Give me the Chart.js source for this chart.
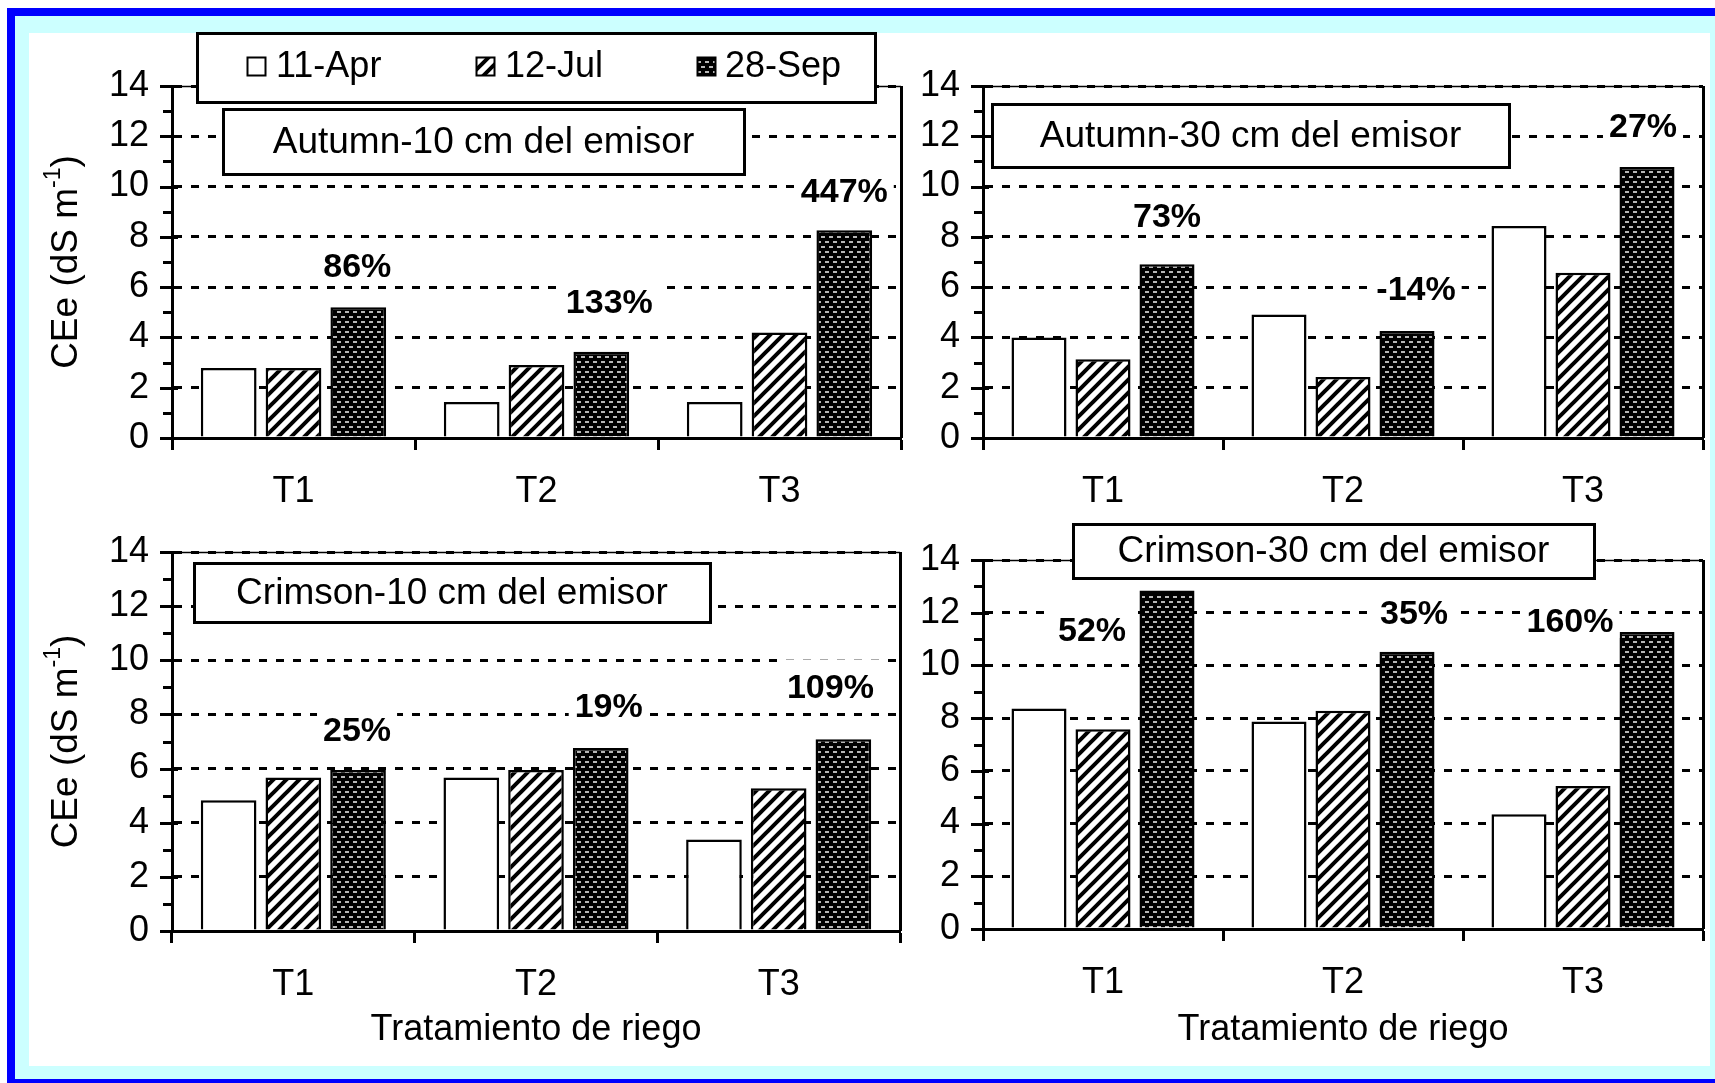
<!DOCTYPE html>
<html>
<head>
<meta charset="utf-8">
<script src="https://cdn.jsdelivr.net/npm/chart.js@4.4.0/dist/chart.umd.min.js"></script>
<style>
  html, body { margin: 0; padding: 0; width: 1715px; height: 1083px; overflow: hidden; background: #fff; }
  #frame { position: absolute; left: 7px; top: 8px; width: 1740px; height: 1100px; background: #0000ff; }
  #cyan { position: absolute; left: 15px; top: 16px; width: 1720px; height: 1063px; background: #ccffff; }
  #paper { position: absolute; left: 29px; top: 33px; width: 1681px; height: 1033px; background: #fff; }
  canvas { position: absolute; left: 0; top: 0; }
</style>
</head>
<body>
<div id="frame"></div>
<div id="cyan"></div>
<div id="paper"></div>
<canvas id="c1" width="1715" height="1083"></canvas>
<canvas id="c2" width="1715" height="1083"></canvas>
<canvas id="c3" width="1715" height="1083"></canvas>
<canvas id="c4" width="1715" height="1083"></canvas>
<script>
const categories = ['T1', 'T2', 'T3'];
const seriesNames = ['11-Apr', '12-Jul', '28-Sep'];
const yMin = 0, yMax = 14, yStep = 2;

const autumn10Apr = [2.78, 1.43, 1.43];
const autumn10Jul = [2.78, 2.90, 4.20];
const autumn10Sep = [5.20, 3.43, 8.26];
const autumn10Pct = ['86%', '133%', '447%'];

const autumn30Apr = [4.00, 4.91, 8.43];
const autumn30Jul = [3.13, 2.43, 6.57];
const autumn30Sep = [6.91, 4.26, 10.78];
const autumn30Pct = ['73%', '-14%', '27%'];

const crimson10Apr = [4.83, 5.67, 3.38];
const crimson10Jul = [5.67, 5.95, 5.27];
const crimson10Sep = [5.95, 6.76, 7.08];
const crimson10Pct = ['25%', '19%', '109%'];

const crimson30Apr = [8.37, 7.87, 4.35];
const crimson30Jul = [7.58, 8.28, 5.43];
const crimson30Sep = [12.84, 10.52, 11.27];
const crimson30Pct = ['52%', '35%', '160%'];

const W = 1715, H = 1083;
const FONT = '"Liberation Sans", Arial, sans-serif';

// panel placement on the page (pixels)
const panels = [
  { id: 'c1', title: 'Autumn-10 cm del emisor', data: [autumn10Apr, autumn10Jul, autumn10Sep], pct: autumn10Pct,
    area: { left: 172, top: 86, right: 901, bottom: 438 }, box: [223, 109, 744, 174],
    nudge: [[-1, -41], [8, -49], [0, -39]], yTitle: true, xTitle: false, legend: true },
  { id: 'c2', title: 'Autumn-30 cm del emisor', data: [autumn30Apr, autumn30Jul, autumn30Sep], pct: autumn30Pct,
    area: { left: 983, top: 86, right: 1703, bottom: 438 }, box: [992, 104, 1509, 167],
    nudge: [[0, -48], [9, -41], [-4, -40]], yTitle: false, xTitle: false, legend: false },
  { id: 'c3', title: 'Crimson-10 cm del emisor', data: [crimson10Apr, crimson10Jul, crimson10Sep], pct: crimson10Pct,
    area: { left: 172, top: 552, right: 900, bottom: 931 }, box: [194, 563, 710, 622],
    nudge: [[-1, -39], [8, -41], [-13, -52]], yTitle: true, xTitle: true, legend: false },
  { id: 'c4', title: 'Crimson-30 cm del emisor', data: [crimson30Apr, crimson30Jul, crimson30Sep], pct: crimson30Pct,
    area: { left: 983, top: 560, right: 1703, bottom: 929 }, box: [1073, 524, 1594, 578],
    nudge: [[-75, 40], [7, -38], [-77, -10]], yTitle: false, xTitle: true, legend: false }
];

function hatchPattern() {
  const s = 13;
  const c = document.createElement('canvas');
  c.width = s; c.height = s;
  const g = c.getContext('2d');
  g.fillStyle = '#fff';
  g.fillRect(0, 0, s, s);
  g.strokeStyle = '#000';
  g.lineWidth = 4;
  g.beginPath();
  g.moveTo(-2, s + 2); g.lineTo(s + 2, -2);
  g.moveTo(-2, 2); g.lineTo(2, -2);
  g.moveTo(s - 2, s + 2); g.lineTo(s + 2, s - 2);
  g.stroke();
  return g.createPattern(c, 'repeat');
}

function dotPattern() {
  const c = document.createElement('canvas');
  c.width = 8; c.height = 10;
  const g = c.getContext('2d');
  g.fillStyle = '#000';
  g.fillRect(0, 0, 8, 10);
  g.fillStyle = '#b8b8b8';
  g.fillRect(1, 1, 4, 2);
  g.fillRect(5, 6, 3, 2);
  g.fillRect(0, 6, 1, 2);
  return g.createPattern(c, 'repeat');
}

const fills = ['#ffffff', hatchPattern(), dotPattern()];

function line(ctx, x1, y1, x2, y2) {
  ctx.beginPath();
  ctx.moveTo(x1, y1);
  ctx.lineTo(x2, y2);
  ctx.stroke();
}

function drawYTitle(ctx, cx, cy) {
  const main = 'CEe (dS m', sup = '-1', close = ')';
  ctx.save();
  ctx.translate(cx, cy);
  ctx.rotate(-Math.PI / 2);
  ctx.fillStyle = '#000';
  ctx.textBaseline = 'middle';
  ctx.textAlign = 'left';
  ctx.font = '37px ' + FONT;
  const w1 = ctx.measureText(main).width;
  const w3 = ctx.measureText(close).width;
  ctx.font = '23px ' + FONT;
  const w2 = ctx.measureText(sup).width;
  let x = -(w1 + w2 + w3) / 2;
  ctx.font = '37px ' + FONT;
  ctx.fillText(main, x, 0);
  x += w1;
  ctx.font = '23px ' + FONT;
  ctx.fillText(sup, x, -13);
  x += w2;
  ctx.font = '37px ' + FONT;
  ctx.fillText(close, x, 0);
  ctx.restore();
}

function drawLegend(ctx, chart) {
  ctx.save();
  ctx.fillStyle = '#fff';
  ctx.fillRect(197, 33, 678, 69);
  ctx.lineWidth = 3;
  ctx.strokeStyle = '#000';
  ctx.strokeRect(197.5, 33.5, 678, 69);
  const swatchX = [247, 476, 697];
  const textX = [276, 505, 725];
  ctx.font = '36px ' + FONT;
  ctx.textBaseline = 'middle';
  ctx.textAlign = 'left';
  chart.data.datasets.forEach((ds, i) => {
    ctx.fillStyle = ds.backgroundColor;
    ctx.fillRect(swatchX[i], 57, 19, 19);
    ctx.lineWidth = 2;
    ctx.strokeRect(swatchX[i] + 0.5, 57.5, 18, 18);
    ctx.fillStyle = '#000';
    ctx.fillText(ds.label, textX[i], 67);
  });
  ctx.restore();
}

function decorPlugin(p) {
  return {
    id: 'decor',
    afterDraw(chart) {
      const ctx = chart.ctx;
      const a = chart.chartArea;
      const ys = chart.scales.y;
      ctx.save();
      ctx.strokeStyle = '#000';
      ctx.lineWidth = 1.5;
      line(ctx, a.left, a.top + 0.5, a.right, a.top + 0.5);
      ctx.lineWidth = 3;
      line(ctx, a.right + 0.5, a.top, a.right + 0.5, a.bottom);
      for (let v = yMin; v <= yMax; v += 1) {
        const py = Math.round(ys.getPixelForValue(v)) + 0.5;
        const major = v % yStep === 0;
        line(ctx, a.left - (major ? 12 : 9), py, a.left + (major ? 6 : 0), py);
      }

      // panel title box
      const [bx1, by1, bx2, by2] = p.box;
      ctx.fillStyle = '#fff';
      ctx.fillRect(bx1, by1, bx2 - bx1, by2 - by1);
      ctx.lineWidth = 3;
      ctx.strokeRect(bx1 + 0.5, by1 + 0.5, bx2 - bx1, by2 - by1);
      ctx.fillStyle = '#000';
      ctx.font = '37px ' + FONT;
      ctx.textAlign = 'center';
      ctx.textBaseline = 'middle';
      ctx.fillText(p.title, (bx1 + bx2) / 2, (by1 + by2) / 2 + 1);

      // percent change labels above the 28-Sep bars
      const meta = chart.getDatasetMeta(2);
      ctx.font = 'bold 34px ' + FONT;
      p.pct.forEach((txt, i) => {
        const bar = meta.data[i];
        const cx = bar.x + p.nudge[i][0];
        const cy = bar.y + p.nudge[i][1];
        const w = ctx.measureText(txt).width;
        ctx.fillStyle = '#fff';
        ctx.fillRect(cx - w / 2 - 6, cy - 28, w + 12, 44);
        ctx.fillStyle = '#000';
        ctx.fillText(txt, cx, cy + 1);
      });

      if (p.yTitle) drawYTitle(ctx, 67, (a.top + a.bottom) / 2);
      if (p.legend) drawLegend(ctx, chart);
      ctx.restore();
    }
  };
}

function makeChart(p) {
  const yW = 100;
  const xH = p.xTitle ? 1052 - p.area.bottom : 80;
  const tickFont = { family: FONT, size: 36 };
  return new Chart(document.getElementById(p.id), {
    type: 'bar',
    data: {
      labels: categories,
      datasets: p.data.map((vals, i) => ({
        label: seriesNames[i],
        data: vals,
        backgroundColor: fills[i],
        borderColor: '#000',
        borderWidth: 2.5,
        categoryPercentage: 0.8,
        barPercentage: 0.86
      }))
    },
    options: {
      responsive: false,
      animation: false,
      events: [],
      layout: {
        padding: {
          left: p.area.left - yW,
          top: p.area.top,
          right: W - p.area.right,
          bottom: H - p.area.bottom - xH
        }
      },
      plugins: { legend: { display: false }, tooltip: { enabled: false } },
      scales: {
        x: {
          grid: { offset: true, drawOnChartArea: false, drawTicks: true, tickLength: 12, tickWidth: 3, tickColor: '#000' },
          border: { display: true, color: '#000', width: 3 },
          ticks: { color: '#000', font: tickFont, padding: 20 },
          title: { display: p.xTitle, text: 'Tratamiento de riego', color: '#000', font: { family: FONT, size: 36 }, padding: 0 },
          afterFit: (s) => { s.height = xH; }
        },
        y: {
          min: yMin,
          max: yMax,
          ticks: { stepSize: yStep, padding: 23, color: '#000', font: tickFont },
          grid: { drawTicks: false, color: '#000', lineWidth: 3 },
          border: { display: true, color: '#000', width: 3, dash: [8, 9] },
          afterFit: (s) => { s.width = yW; }
        }
      }
    },
    plugins: [decorPlugin(p)]
  });
}

panels.forEach(makeChart);
</script>
</body>
</html>
